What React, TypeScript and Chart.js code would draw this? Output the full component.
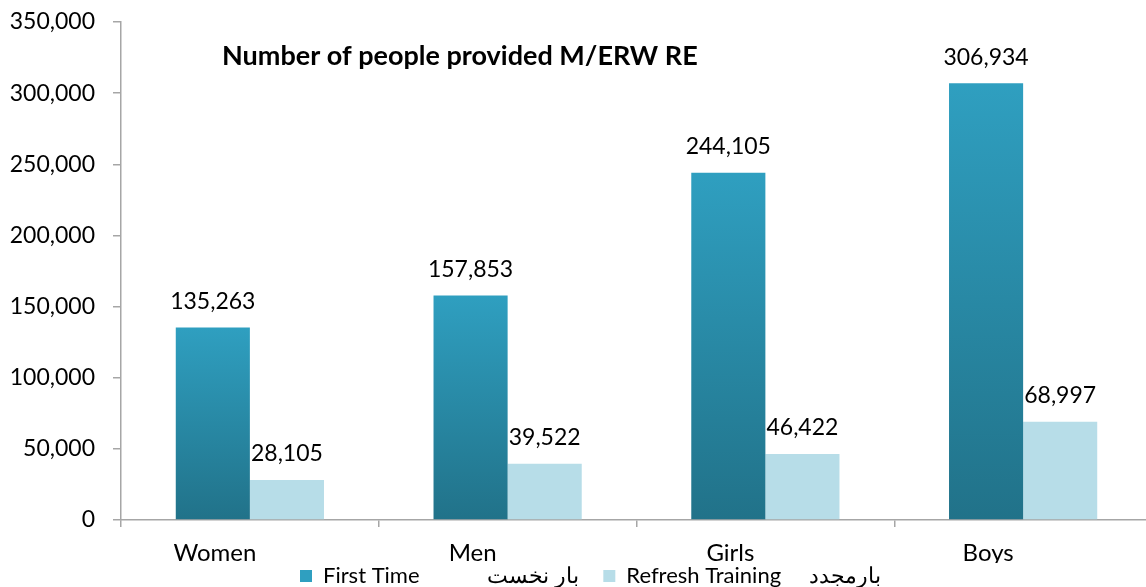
import React, { useEffect, useRef } from "react";
import { Chart, registerables } from "chart.js";

Chart.register(...registerables);

const categories = ["Women", "Men", "Girls", "Boys"];
const firstTime = [135263, 157853, 244105, 306934];
const refreshTraining = [28105, 39522, 46422, 68997];
const seriesNames = [
  "First Time            بار نخست\u200E    ",
  "Refresh Training     بارمجدد",
];
const yTicks = [0, 50000, 100000, 150000, 200000, 250000, 300000, 350000];
const titleText = "Number of people provided M/ERW RE";

const FONT = "Lato, 'Open Sans', sans-serif";
const FIRST_TOP = "#2f9fc0";
const FIRST_BOTTOM = "#217289";
const REFRESH = "#b7dde8";
const AXIS = "#a6a6a6";

export default function App() {
  const ref = useRef<HTMLCanvasElement>(null);

  useEffect(() => {
    document.body.style.margin = "0";
    const canvas = ref.current!;
    const fmt = (v: number) => v.toLocaleString("en-US");

    const dataLabels = {
      id: "dataLabels",
      afterDatasetsDraw(chart: any) {
        const ctx = chart.ctx;
        ctx.save();
        ctx.font = `23px ${FONT}`;
        ctx.fillStyle = "#000";
        ctx.textAlign = "center";
        ctx.textBaseline = "middle";
        chart.data.datasets.forEach((ds: any, di: number) => {
          const meta = chart.getDatasetMeta(di);
          meta.data.forEach((el: any, i: number) => {
            ctx.fillText(fmt(ds.data[i]), el.x, el.y - 26);
          });
        });
        ctx.restore();
      },
    };

    const titlePlugin = {
      id: "innerTitle",
      afterDraw(chart: any) {
        const ctx = chart.ctx;
        ctx.save();
        ctx.font = `bold 27px ${FONT}`;
        ctx.fillStyle = "#000";
        ctx.textAlign = "left";
        ctx.textBaseline = "middle";
        ctx.fillText(titleText, 222, 56);
        ctx.restore();
      },
    };

    const legendShift = {
      id: "legendShift",
      afterLayout(chart: any) {
        const l = chart.legend;
        if (l) {
          l.left = 298;
        }
      },
    };

    const chart = new Chart(canvas, {
      type: "bar",
      data: {
        labels: categories,
        datasets: [
          {
            label: seriesNames[0],
            data: firstTime,
            backgroundColor: (c: any) => {
              const ch = c.chart;
              const ys = ch.scales?.y;
              if (!ys || c.raw == null) return FIRST_TOP;
              const top = ys.getPixelForValue(c.raw);
              const bot = ys.getPixelForValue(0);
              if (!isFinite(top) || !isFinite(bot)) return FIRST_TOP;
              const g = ch.ctx.createLinearGradient(0, top, 0, bot);
              g.addColorStop(0, FIRST_TOP);
              g.addColorStop(1, FIRST_BOTTOM);
              return g;
            },
            barPercentage: 1,
            categoryPercentage: 0.575,
          },
          {
            label: seriesNames[1],
            data: refreshTraining,
            backgroundColor: REFRESH,
            barPercentage: 1,
            categoryPercentage: 0.575,
          },
        ],
      },
      options: {
        responsive: false,
        animation: false,
        devicePixelRatio: 1,
        layout: { padding: { top: 0, right: 0, left: 0, bottom: -10 } },
        plugins: {
          title: { display: false },
          tooltip: { enabled: false },
          legend: {
            position: "bottom",
            align: "start",
            labels: {
              font: { family: FONT, size: 22 },
              color: "#000",
              boxWidth: 12,
              boxHeight: 12,
              padding: 2,
              generateLabels: () => [
                { text: seriesNames[0], fillStyle: FIRST_TOP, strokeStyle: FIRST_TOP, lineWidth: 0, datasetIndex: 0 },
                { text: seriesNames[1], fillStyle: REFRESH, strokeStyle: REFRESH, lineWidth: 0, datasetIndex: 1 },
              ],
            },
          },
        },
        scales: {
          x: {
            offset: true,
            afterFit: (axis: any) => {
              axis.height = 43;
            },
            border: { display: true, color: AXIS, width: 1.5 },
            grid: { display: true, drawOnChartArea: false, offset: true, tickLength: 7, color: AXIS, lineWidth: 1.5 },
            ticks: { font: { family: FONT, size: 24 }, color: "#000", padding: 12, labelOffset: -35 },
          },
          y: {
            min: 0,
            max: 350000,
            afterBuildTicks: (axis: any) => {
              axis.ticks = yTicks.map((v) => ({ value: v }));
            },
            afterFit: (axis: any) => {
              axis.width = 121;
              axis.paddingTop = 22;
              axis.paddingBottom = 0;
            },
            border: { display: true, color: AXIS, width: 1.5 },
            grid: { display: true, drawOnChartArea: false, tickLength: 8, color: AXIS, lineWidth: 1.5 },
            ticks: {
              font: { family: FONT, size: 23 },
              color: "#000",
              padding: 18,
              callback: (v: any) => fmt(Number(v)),
            },
          },
        },
      },
      plugins: [dataLabels, titlePlugin, legendShift],
    });
    return () => chart.destroy();
  }, []);

  return (
    <div style={{ width: 1146, height: 587, overflow: "hidden" }}>
      <canvas ref={ref} width={1152} height={587} style={{ display: "block" }} />
    </div>
  );
}
